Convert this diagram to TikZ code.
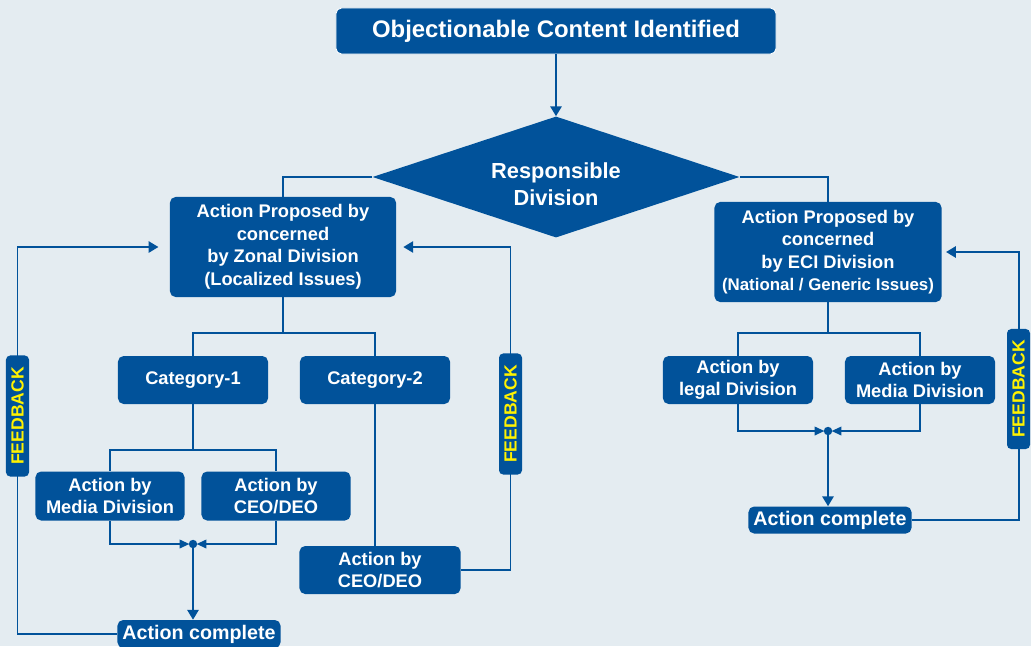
\documentclass[tikz,border=0pt]{standalone}
\usepackage{fontspec}
\setmainfont{Liberation Sans}
\usetikzlibrary{shapes.geometric,arrows.meta}

\definecolor{bgblue}{HTML}{E4ECF1}
\definecolor{boxblue}{HTML}{01529A}
\definecolor{fbyellow}{HTML}{FFF200}

\tikzset{
  box/.style={fill=boxblue, rounded corners=4pt, text=white, align=center,
    inner sep=0pt, font=\bfseries\fontsize{13}{16}\selectfont},
  fb/.style={fill=boxblue, rounded corners=3pt, text=fbyellow, rotate=90,
    inner sep=0pt, minimum height=0.575cm, font=\bfseries\fontsize{12.5}{14}\selectfont},
  link/.style={draw=boxblue, line width=1.4pt},
  arr/.style={link, -{Triangle[length=7pt,width=8pt]}},
  joinarr/.style={link, -{Triangle[length=7pt,width=6pt]}, shorten >=2.5pt},
}

\begin{document}
\begin{tikzpicture}[x=0.025cm, y=-0.025cm]
  \fill[bgblue] (0,0) rectangle (1031,646);
  \useasboundingbox (0,0) rectangle (1031,646);

  % top and decision
  \node[box, draw=white, line width=0.6pt, minimum width=11cm, minimum height=1.15cm,
    font=\bfseries\fontsize{17}{20}\selectfont] (top) at (556,31) {Objectionable Content Identified};
  \node[box, diamond, aspect=3, rounded corners=0pt, minimum width=9.175cm, minimum height=3.025cm,
    font=\bfseries\fontsize{15.5}{19}\selectfont] (dia) at (556,177)
    {\raisebox{-7pt}[\height][\depth]{\begin{tabular}{@{}c@{}}Responsible\\Division\end{tabular}}};

  % left branch
  \node[box, minimum width=5.65cm, minimum height=2.5cm] (zonal) at (283,247)
    {Action Proposed by\\concerned\\by Zonal Division\\(Localized Issues)};
  \node[box, minimum width=3.75cm, minimum height=1.2cm] (cat1) at (193,380) {Category-1};
  \node[box, minimum width=3.75cm, minimum height=1.2cm] (cat2) at (375,380) {Category-2};
  \node[box, minimum width=3.725cm, minimum height=1.225cm] (media1) at (110,496) {Action by\\Media Division};
  \node[box, minimum width=3.725cm, minimum height=1.225cm] (ceo1) at (276,496) {Action by\\CEO/DEO};
  \node[box, minimum width=4.025cm, minimum height=1.2cm] (ceo2) at (380,570) {Action by\\CEO/DEO};
  \node[box, minimum width=4.075cm, minimum height=0.7cm,
    font=\bfseries\fontsize{14}{16}\selectfont] (done1) at (199,634) {Action complete};

  % right branch
  \node[box, minimum width=5.675cm, minimum height=2.5cm] (eci) at (828,252)
    {Action Proposed by\\concerned\\by ECI Division\\{\fontsize{12}{16}\selectfont(National / Generic Issues)}};
  \node[box, minimum width=3.75cm, minimum height=1.2cm] (legal) at (738,380) {Action by\\legal Division};
  \node[box, minimum width=3.75cm, minimum height=1.2cm] (media2) at (920,380) {Action by\\Media Division};
  \node[box, minimum width=4.075cm, minimum height=0.675cm,
    font=\bfseries\fontsize{14}{16}\selectfont] (done2) at (830,520) {Action complete};

  \coordinate (zsplit) at (283,333);
  \coordinate (c1split) at (193,450);
  \coordinate (j1) at (193,544);
  \coordinate (esplit) at (828,333);
  \coordinate (j2) at (828,431);
  \coordinate (fbL) at (17.5,416);
  \coordinate (fbM) at (510.5,414);
  \coordinate (fbR) at (1018.5,389);

  \draw[arr] (top) -- (dia);
  \draw[link] (dia.west) -| (zonal.north);
  \draw[link] (dia.east) -| (eci.north);

  \draw[link] (zonal) -- (zsplit);
  \draw[link] (cat1.north) |- (zsplit) -| (cat2.north);
  \draw[link] (cat1) -- (c1split);
  \draw[link] (media1.north) |- (c1split) -| (ceo1.north);
  \draw[joinarr] (media1.south) |- (j1);
  \draw[joinarr] (ceo1.south) |- (j1);
  \draw[arr] (j1) -- (j1 |- done1.north);
  \draw[link] (cat2.south) -- (cat2.south |- ceo2.north);

  \draw[link] (eci) -- (esplit);
  \draw[link] (legal.north) |- (esplit) -| (media2.north);
  \draw[joinarr] (legal.south) |- (j2);
  \draw[joinarr] (media2.south) |- (j2);
  \draw[arr] (j2) -- (j2 |- done2.north);
  \fill[boxblue] (j1) circle (3pt) (j2) circle (3pt);

  % feedback loops
  \draw[arr] (done1.west) -| (fbL) |- ([xshift=-8pt]zonal.west);
  \draw[arr] (ceo2.east) -| (fbM) |- ([xshift=5pt]zonal.east);
  \draw[arr] (done2.east) -| (fbR) |- ([xshift=3pt]eci.east);
  \node[fb, minimum width=3.025cm] (fb1) at (fbL) {FEEDBACK};
  \node[fb, minimum width=3.025cm] (fb2) at (fbM) {FEEDBACK};
  \node[fb, minimum width=3cm] (fb3) at (fbR) {FEEDBACK};
\end{tikzpicture}
\end{document}
